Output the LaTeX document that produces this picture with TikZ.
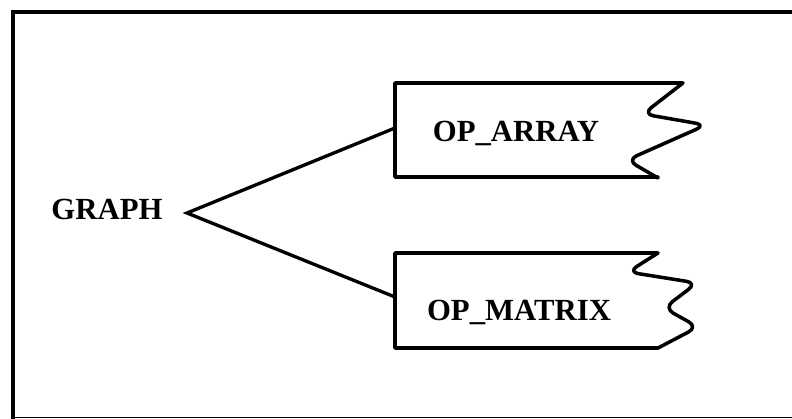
\documentclass[tikz,border=0pt]{standalone}
\usepackage{fontspec}
\setmainfont{Liberation Serif}
\usetikzlibrary{positioning}

\tikzset{
  label/.style={font=\fontsize{17.5}{20}\selectfont\bfseries, inner sep=0pt},
  boxline/.style={line width=2pt, line join=round, line cap=round},
  link/.style={line width=1.9pt, line join=miter}
}

\begin{document}
\begin{tikzpicture}[x=0.02cm, y=-0.02cm]

% Page area and frame (no right edge)
\useasboundingbox (0,0) rectangle (792,419);
\draw[line width=2.4pt] (13,419) -- (13,12) -- (792,12);
\draw[line width=0.8pt] (13,417.5) -- (792,417.5);

% Root label
\node[label] (graph) at (107,209) {GRAPH};
\coordinate (apex) at (187,213);

% Torn-edge boxes: square on the left, wavy on the right
\draw[boxline] (658,177) -- (395,177) -- (395,83) -- (683,83)
  [rounded corners=6pt] -- (643,114) -- (706,125) -- (627,160) -- (658,178);
\draw[boxline] (658,348) -- (395,348) -- (395,253) -- (658,253)
  [rounded corners=6pt] -- (628,272) -- (697,283) -- (664,308)
  -- (698,327) [sharp corners] -- (658,348);

\node[label] (arr) at (516,133) {OP\_ARRAY};
\node[label] (mat) at (519,312) {OP\_MATRIX};

\coordinate (arr-in) at (395,128);
\coordinate (mat-in) at (395,297);

% Branches
\draw[link] (arr-in) -- (apex) -- (mat-in);

\end{tikzpicture}
\end{document}
